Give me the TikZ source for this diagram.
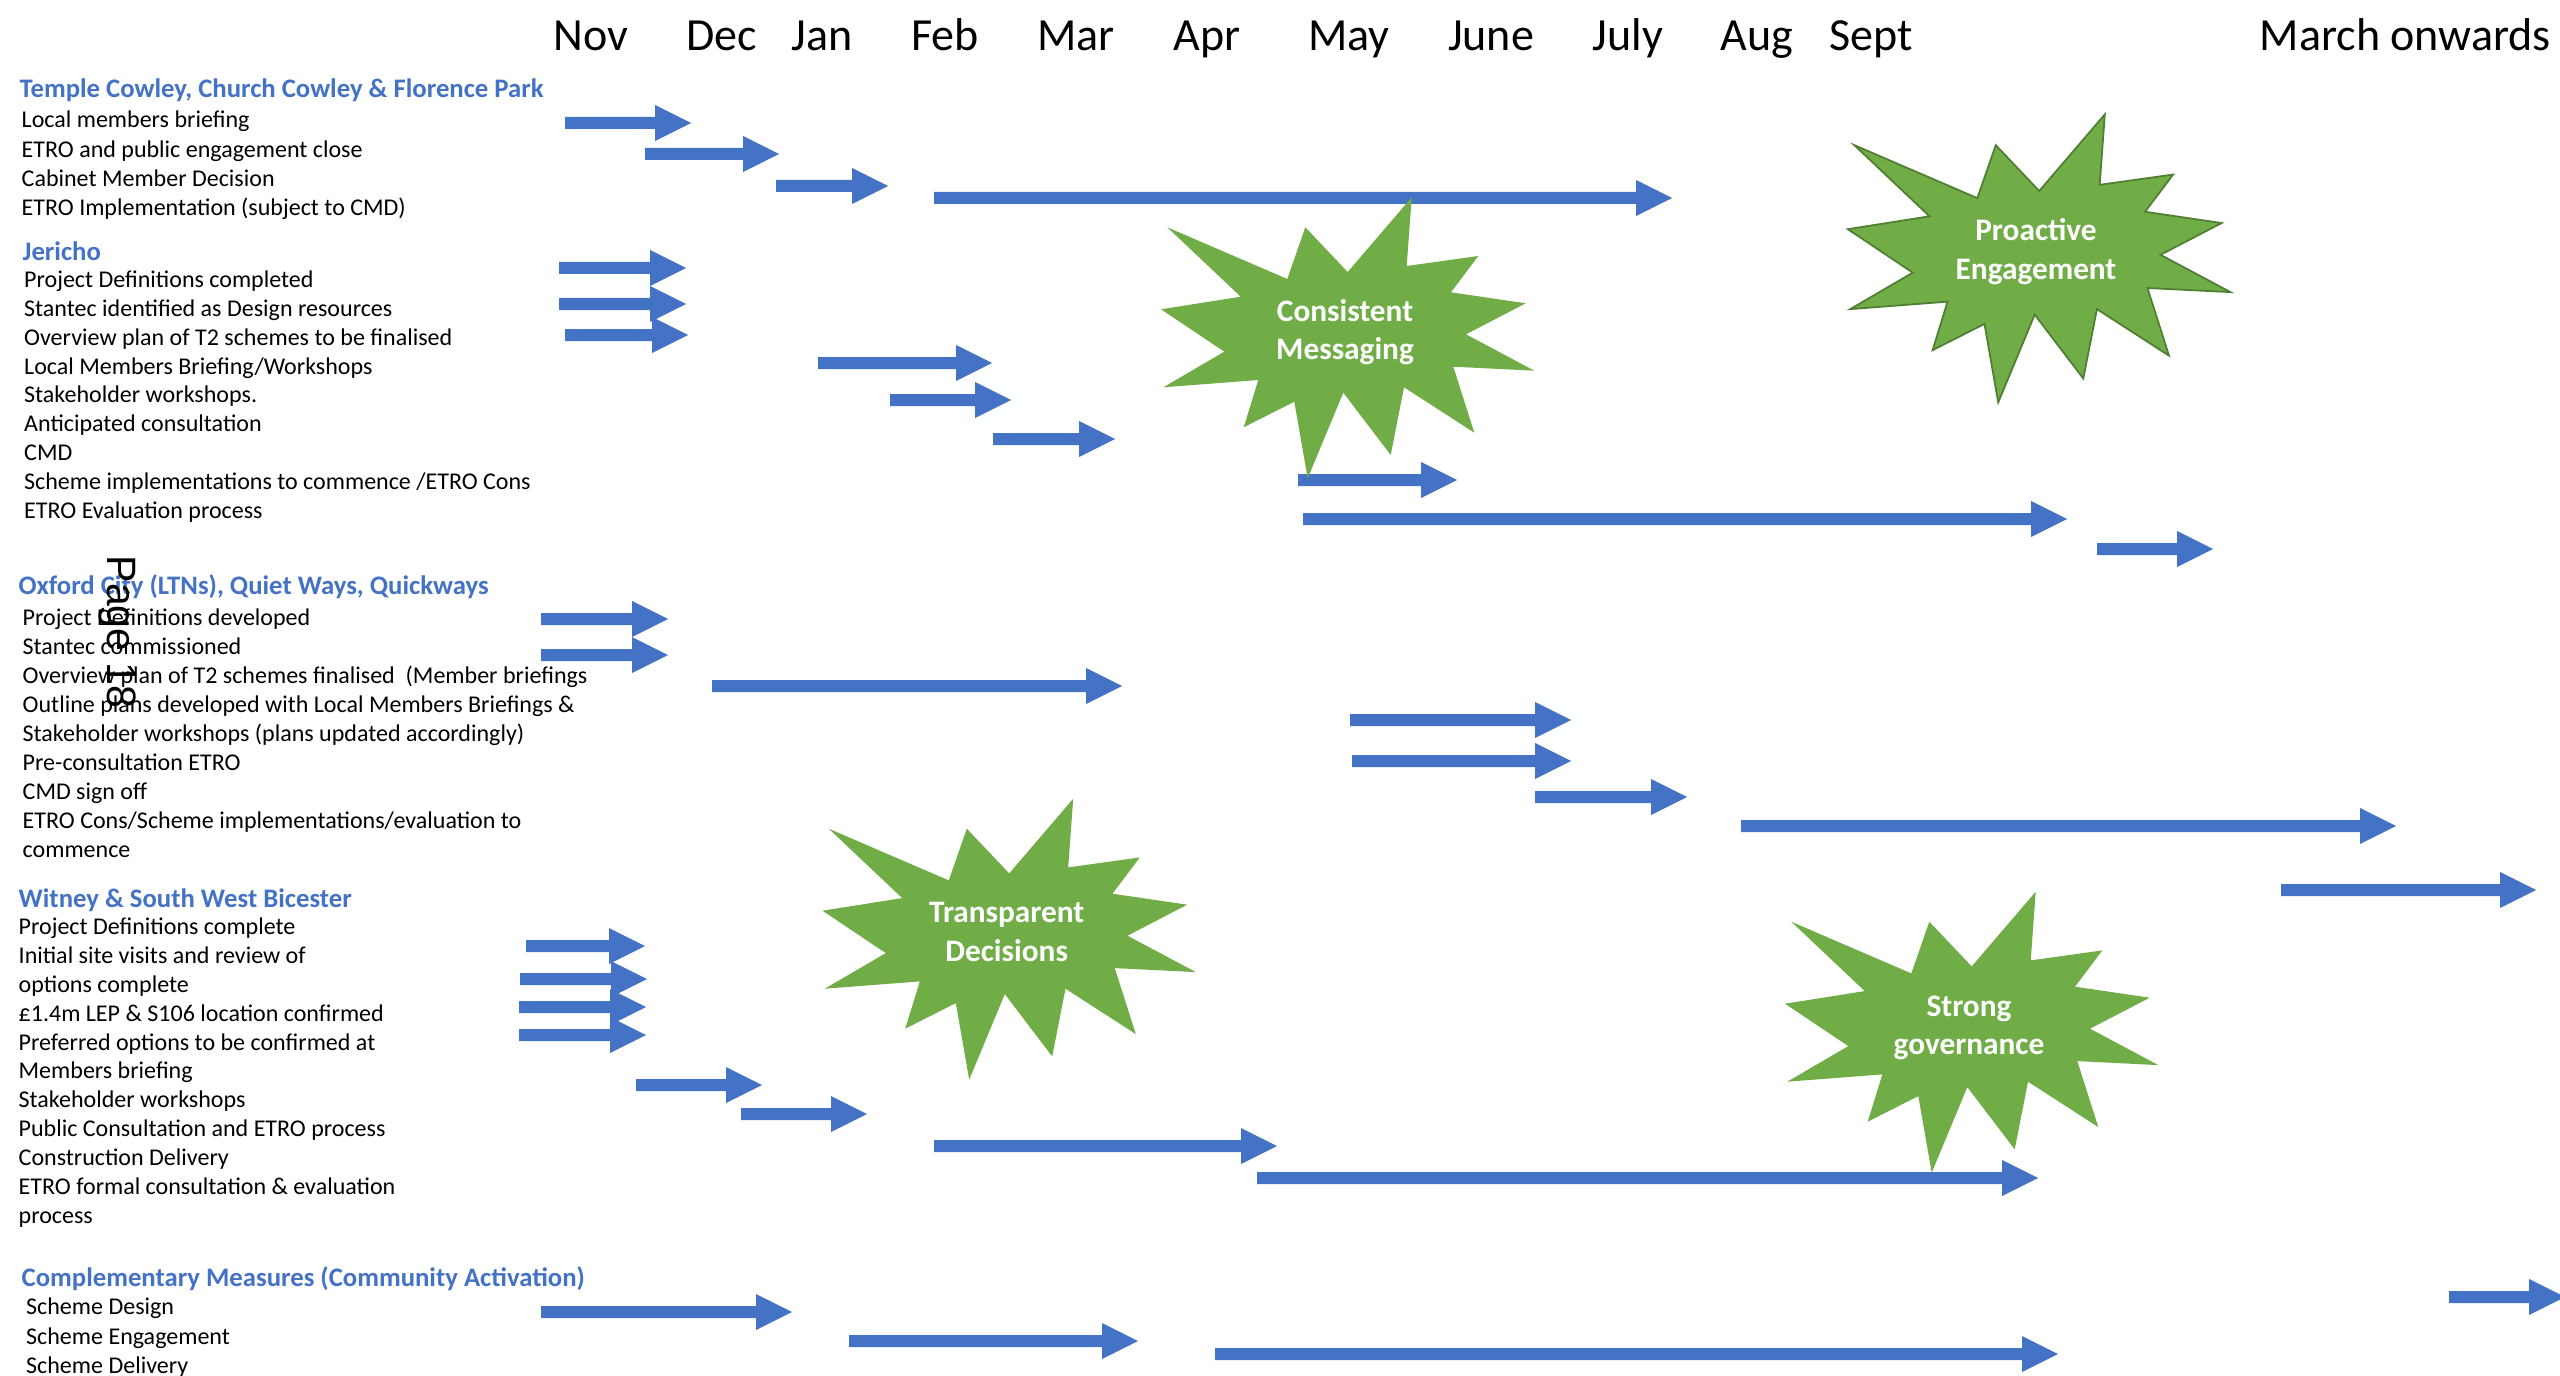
\documentclass[tikz,border=0pt]{standalone}
\usepackage{fontspec}
\setmainfont{Carlito}
\newfontfamily\pagefont{Liberation Sans}
\definecolor{accblue}{HTML}{4472C4}
\definecolor{accgreen}{HTML}{70AD47}
\definecolor{darkgreen}{HTML}{507E32}
% block arrow: name, x start, x tip, y
\newcommand\barrow[4]{%
  \fill[accblue] (#2,{#4-6}) -- ({#3-36},{#4-6}) -- ({#3-36},{#4-18}) -- (#3,#4)
    -- ({#3-36},{#4+18}) -- ({#3-36},{#4+6}) -- (#2,{#4+6}) -- cycle;
  \coordinate (#1) at (#3,#4);
}
% explosion shape: name, cx, cy, scale, style
\newcommand\burst[5]{%
  \begin{scope}[shift={(#2,#3)},scale=#4]
  \path[#5] (64,-140.5) -- (59,-71.8) -- (130.6,-81.8) -- (103.3,-45.5) -- (178,-34.5)
   -- (118.3,-3.5) -- (186.6,32.9) -- (105.6,28.9) -- (126.6,94.9) -- (56.3,49.5)
   -- (43,117.2) -- (-4.4,54.9) -- (-40,140.5) -- (-53.4,63.9) -- (-104,89.5)
   -- (-89.4,42.2) -- (-184.4,49.5) -- (-123.4,13.9) -- (-186.7,-28.5) -- (-107,-41.1)
   -- (-180.4,-110.5) -- (-60.4,-58.8) -- (-42.4,-110.5) -- (0,-65.8) -- cycle;
  \end{scope}
  \coordinate (#1) at (#2,#3);
}
\tikzset{
  body/.style={font=\fontsize{6.83}{8.3}\selectfont, anchor=base west, inner sep=0pt},
  head/.style={font=\bfseries\fontsize{7.6}{9}\selectfont, text=accblue, anchor=base west, inner sep=0pt},
  month/.style={font=\fontsize{13.09}{15}\selectfont, anchor=base, inner sep=0pt},
  bursttext/.style={font=\bfseries\fontsize{8.9}{10.8}\selectfont, text=white, anchor=base, inner sep=0pt},
  greenfill/.style={fill=accgreen},
  greenframe/.style={fill=accgreen, draw=darkgreen, line width=0.5pt, line join=miter},
}
\begin{document}
\begin{tikzpicture}[x=0.01cm,y=-0.01cm]
\useasboundingbox (0,0) rectangle (2560,1376);
\fill[white] (0,0) rectangle (2560,1376);
\clip (0,0) rectangle (2560,1376);

% month labels
\node[month] (nov) at (591,51) {Nov};
\node[month] (dec) at (722,51) {Dec};
\node[month] (jan) at (822,51) {Jan};
\node[month] (feb) at (945,51) {Feb};
\node[month] (mar) at (1076,51) {Mar};
\node[month] (apr) at (1207,51) {Apr};
\node[month] (may) at (1349,51) {May};
\node[month] (jun) at (1491,51) {June};
\node[month] (jul) at (1628,51) {July};
\node[month] (aug) at (1757,51) {Aug};
\node[month] (sep) at (1871,51) {Sept};
\node[month, anchor=base west] (onw) at (2259,51) {March onwards};

% section 1
\node[head] (h1) at (19,97.6) {Temple Cowley, Church Cowley \& Florence Park};
\foreach \t [count=\i] in {Local members briefing,ETRO and public engagement close,Cabinet Member Decision,ETRO Implementation (subject to CMD)}
  \node[body] (sA\i) at (21,{127.7+(\i-1)*29.4}) {\t};

% section 2
\node[head] (h2) at (22,260.9) {Jericho};
\foreach \t [count=\i] in {Project Definitions completed,Stantec identified as Design resources,Overview plan of T2 schemes to be finalised,Local Members Briefing/Workshops,Stakeholder workshops.,Anticipated consultation,CMD,Scheme implementations to commence /ETRO Cons,ETRO Evaluation process}
  \node[body] (sB\i) at (23.5,{287.7+(\i-1)*28.8}) {\t};

% section 3
\node[head] (h3) at (18,594) {Oxford City (LTNs), Quiet Ways, Quickways};
\foreach \t [count=\i] in {Project Definitions developed,Stantec commissioned,Overview plan of T2 schemes finalised\ \ (Member briefings,Outline plans developed with Local Members Briefings \&,Stakeholder workshops (plans updated accordingly),Pre-consultation ETRO,CMD sign off,ETRO Cons/Scheme implementations/evaluation to,commence}
  \node[body] (sC\i) at (22,{625.8+(\i-1)*29}) {\t};

% section 4
\node[head] (h4) at (18,907.6) {Witney \& South West Bicester};
\foreach \t [count=\i] in {Project Definitions complete,Initial site visits and review of,options complete,£1.4m LEP \& S106 location confirmed,Preferred options to be confirmed at,Members briefing,Stakeholder workshops,Public Consultation and ETRO process,Construction Delivery,ETRO formal consultation \& evaluation,process}
  \node[body] (sD\i) at (18,{934.4+(\i-1)*28.9}) {\t};

% section 5
\node[head] (h5) at (21,1286.4) {Complementary Measures (Community Activation)};
\foreach \t [count=\i] in {Scheme Design,Scheme Engagement,Scheme Delivery}
  \node[body] (sE\i) at (25.5,{1314.9+(\i-1)*29.4}) {\t};

% page stamp
\node[font=\pagefont\fontsize{11.67}{14}\selectfont, rotate=-90, anchor=base west, inner sep=0pt] (pg) at (107,555) {Page 18};

% arrows
\barrow{a1}{565}{691}{123}
\barrow{a2}{645}{779}{154}
\barrow{a3}{776}{888}{186}
\barrow{a4}{934}{1672}{198}
\barrow{a5}{559}{686}{268}
\barrow{a6}{559}{686}{304}
\barrow{a7}{565}{688}{335}
\barrow{a8}{818}{992}{363}
\barrow{a9}{890}{1011}{400}
\barrow{a10}{993}{1115}{439}
\barrow{a11}{1298}{1457}{480}
\barrow{a12}{1303}{2067}{519}
\barrow{a13}{2097}{2213}{549}
\barrow{a14}{541}{668}{619}
\barrow{a15}{541}{668}{655}
\barrow{a16}{712}{1122}{686}
\barrow{a17}{1350}{1571}{720}
\barrow{a18}{1352}{1571}{761}
\barrow{a19}{1535}{1687}{797}
\barrow{a20}{1741}{2396}{826}
\barrow{a21}{2281}{2536}{890}
\barrow{a22}{526}{645}{946}
\barrow{a23}{520}{647}{979}
\barrow{a24}{519}{646}{1007}
\barrow{a25}{519}{646}{1035}
\barrow{a26}{636}{762}{1085}
\barrow{a27}{741}{867}{1114}
\barrow{a28}{934}{1277}{1146}
\barrow{a29}{1257}{2038}{1178}
\barrow{a30}{541}{792}{1312}
\barrow{a31}{849}{1138}{1341}
\barrow{a32}{1215}{2058}{1354}
\barrow{a33}{2449}{2565}{1297}

% explosions
\burst{cmStar}{1347.7}{337.8}{1}{greenfill}
\node[bursttext] (cm1) at (1345,321.7) {Consistent};
\node[bursttext] (cm2) at (1345,359.5) {Messaging};

\burst{peStar}{2039.2}{258.4}{1.025}{greenframe}
\node[bursttext] (pe1) at (2036,241) {Proactive};
\node[bursttext] (pe2) at (2036,279) {Engagement};

\burst{tdStar}{1009.2}{939.2}{1}{greenfill}
\node[bursttext] (td1) at (1006.7,922.3) {Transparent};
\node[bursttext] (td2) at (1006.7,961.5) {Decisions};

\burst{sgStar}{1971.7}{1032.2}{1}{greenfill}
\node[bursttext] (sg1) at (1969,1016.7) {Strong};
\node[bursttext] (sg2) at (1969,1054.5) {governance};
\end{tikzpicture}
\end{document}
